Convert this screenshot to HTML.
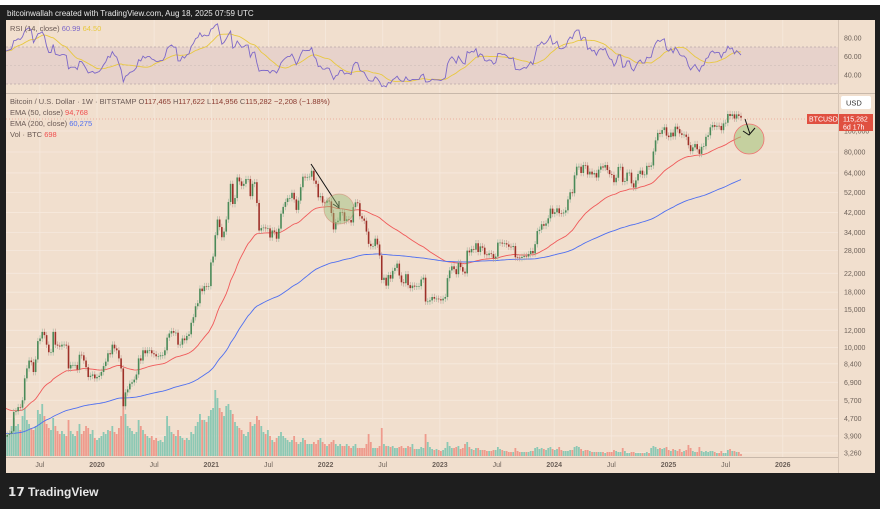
<!DOCTYPE html>
<html><head><meta charset="utf-8"><style>
html,body{margin:0;padding:0;background:#1e1e1e;width:880px;height:509px;overflow:hidden}
svg{display:block;font-family:"Liberation Sans",sans-serif}
</style></head><body>
<svg id="c" width="880" height="509">
<rect x="0" y="0" width="880" height="5" fill="#ffffff"/>
<rect x="0" y="5" width="880" height="504" fill="#1e1e1e"/>
<text x="7" y="16" fill="#e8e8e8" font-size="8">bitcoinwallah created with TradingView.com, Aug 18, 2025 07:59 UTC</text>
<rect x="6" y="20" width="869" height="453" fill="#f1dfce"/>
<g id="grid"></g>
<rect x="6" y="47" width="832" height="37" fill="#e7d2cb"/>
<line x1="6" y1="47" x2="838" y2="47" stroke="#b9a9a8" stroke-dasharray="2,2" stroke-width="0.7"/>
<line x1="6" y1="65.5" x2="838" y2="65.5" stroke="#c9b9b5" stroke-dasharray="2,2" stroke-width="0.6"/>
<line x1="6" y1="84" x2="838" y2="84" stroke="#b9a9a8" stroke-dasharray="2,2" stroke-width="0.7"/>
<line x1="6" y1="93.5" x2="875" y2="93.5" stroke="#c8b8aa" stroke-width="1"/>
<line x1="838.5" y1="20" x2="838.5" y2="473" stroke="#d6c4b4" stroke-width="1"/>
<line x1="6" y1="457.5" x2="838" y2="457.5" stroke="#c8b8aa" stroke-width="1"/>
<defs><clipPath id="mainclip"><rect x="6" y="94" width="832" height="363"/></clipPath><clipPath id="rsiclip"><rect x="6" y="20" width="832" height="73"/></clipPath></defs>
<g id="vol" clip-path="url(#mainclip)"></g>
<g id="ema" clip-path="url(#mainclip)"></g>
<g id="candles" clip-path="url(#mainclip)"></g>
<g id="rsi" clip-path="url(#rsiclip)"></g>
<g id="axes"></g>
<text x="10" y="31" font-size="7.5" fill="#6a5a55">RSI (14, close) <tspan fill="#7d68c8">60.99</tspan> <tspan fill="#e8c840">64.50</tspan></text>
<text x="10" y="104" font-size="7.5" fill="#6a5a55">Bitcoin / U.S. Dollar · 1W · BITSTAMP  O<tspan fill="#8a3a30">117,465</tspan>  H<tspan fill="#8a3a30">117,622</tspan>  L<tspan fill="#8a3a30">114,956</tspan>  C<tspan fill="#8a3a30">115,282</tspan>  <tspan fill="#8a3a30">−2,208 (−1.88%)</tspan></text>
<text x="10" y="115" font-size="7.5" fill="#6a5a55">EMA (50, close) <tspan fill="#f05050">94,768</tspan></text>
<text x="10" y="126" font-size="7.5" fill="#6a5a55">EMA (200, close) <tspan fill="#4f6ff0">60,275</tspan></text>
<text x="10" y="137" font-size="7.5" fill="#6a5a55">Vol · BTC <tspan fill="#f05050">698</tspan></text>
<g>
<line x1="311" y1="164" x2="339" y2="207" stroke="#111" stroke-width="1"/>
<polyline points="333,204 339,208 339,201" fill="none" stroke="#111" stroke-width="1"/>
<circle cx="339" cy="209" r="15" fill="rgba(150,190,120,0.45)" stroke="rgba(210,120,100,0.5)" stroke-width="0.8"/>
</g>
<g>
<circle cx="749" cy="139" r="15" fill="rgba(160,195,120,0.55)" stroke="#f07070" stroke-width="0.8"/>
<line x1="745" y1="119" x2="750" y2="134" stroke="#111" stroke-width="1"/>
<polyline points="743,131 749,135 755,128" fill="none" stroke="#111" stroke-width="1"/>
</g>
<line x1="6" y1="119" x2="838" y2="119" stroke="#e8a090" stroke-dasharray="1,2" stroke-width="0.7"/>
<rect x="841" y="96" width="30" height="13" rx="2" fill="#ffffff"/>
<text x="846" y="105.5" font-size="7.5" fill="#333">USD</text>
<rect x="807" y="114" width="31" height="10" fill="#e05040"/>
<text x="809" y="121.5" font-size="7" fill="#fff">BTCUSD</text>
<rect x="839" y="114" width="34" height="17" fill="#e05040"/>
<text x="843" y="121.5" font-size="7" fill="#fff">115,282</text>
<text x="843" y="129.5" font-size="7" fill="#fff">6d 17h</text>
<g>
<text x="8" y="496" font-size="12" font-weight="bold" fill="#e8e8e8">𝟭𝟳</text>
<text x="28" y="496" font-size="12" font-weight="bold" fill="#e8e8e8">TradingView</text>
</g>
</svg>
<script>
const closes = [
3870,3950,4000,4100, 5030,5070,5300,5270, 5700,7200,8000,8700,8550, 7700,8800,10700,11000, 11800,11400,10300,9500,9500, 11800,10300,10200,10100, 10300,10300,10200,8000,8300, 8300,8300,7900,9250, 9200,8700,8100,7300, 7400,7500,7200,7300,7400,
7700,8200,8600,9400, 9300,10300,9900,9700, 8900,8000,5350,6200,6400, 6800,6900,7100,7500, 8900,8700,9700,9400,9700, 9700,9400,9300,9100, 9100,9200,9200,9700, 11100,11600,11900,11700,11700, 10300,10300,11000,10800, 11300,11500,13000,13800, 15500,16000,18700,18200,19200, 19100,19200,24700,26300,
33000,39000,36000,32300,34300, 39000,47000,57000,46000, 49000,61000,58500,55800, 57000,60000,60000,50000, 57000,58000,46500,34700,35600, 35800,35500,35500,32200, 34700,34200,31800,35400, 41500,44600,47000,48900,49000, 51800,48300,43200,47700, 55000,61500,61000,61300,61500, 65500,59000,57000,49400, 50000,46700,46600,47700,
47300,41800,35100,37900,38500, 42200,42100,38400,39100, 38800,37800,44500,46800, 46400,40400,39400,38500, 34300,30100,29400,29400,31800, 29900,26600,20500,21000, 19300,21600,20800,22600,23300, 24400,21500,20000,19800, 21800,19400,18800,19300, 19100,19200,19200,20600,21000, 16300,16300,16500,17100, 16800,16800,16700,16500,
16800,17100,20900,22700,23700, 23000,21800,24600,23500, 22400,22000,28000,27500, 28500,28300,30300,27600,29300, 28900,26900,26700,27200, 27000,25800,26300,30500, 30500,30200,30300,29900,29200, 29100,29400,26100,26000, 25900,26200,26500,26300, 27000,27900,27200,30000,34500, 35000,37100,36500,37400, 39500,43800,41400,42100,
43900,41700,41600,42000, 43000,48300,52100,51600, 62400,68400,68400,64000,69600, 69300,63000,64900,63000, 63900,61000,66300,68600, 67800,69600,66000,63200,62700, 58000,60800,68200,68300, 58200,58700,64200,64200, 57300,54800,59100,63300,65600, 62800,62900,69000,68400, 69300,80400,90500,98000, 97000,101000,104000,95200,93700,
98300,94500,104700,102000, 97500,96000,96200,94000, 86000,80700,84000,87000,82300, 78400,84500,85100,94000, 95500,104000,106500,104600, 105700,105500,100900,108400,109200, 119800,117300,119400,114200, 119300,117465,115282
];
const volumes = [
18,20,22,30, 38,30,32,26, 40,48,36,32,28, 26,30,46,42, 52,40,32,28,26, 38,30,25,22, 25,22,20,36,25, 22,20,25,32, 22,25,30,28, 22,26,18,16,18,
20,24,22,26, 25,30,24,22, 28,40,62,42,30, 28,25,22,24, 36,30,26,22,20, 18,20,16,18, 15,16,14,20, 40,30,24,22,20, 26,20,18,16, 18,16,24,22, 30,34,42,36,36, 34,40,46,48,
66,58,48,44,40, 50,52,46,42, 34,30,28,26, 22,20,24,34, 30,32,40,36,30, 24,22,26,20, 16,14,18,20, 24,20,18,16,14, 16,20,14,12, 14,18,16,12,12, 12,14,12,16, 18,14,12,10,
12,14,16,12,10, 12,10,10,12, 10,8,10,12, 8,8,8,8, 12,22,14,8,8, 8,10,28,12, 10,10,9,10,8, 8,9,10,8, 8,10,9,12, 7,7,7,9,8, 22,14,9,7, 6,7,6,5,
6,8,14,10,8, 8,9,10,7, 8,12,14,9, 7,6,8,8,6, 6,6,5,5, 5,6,6,9, 7,6,5,5,4, 4,4,8,5, 4,4,4,4, 4,5,5,8,9, 7,8,7,6, 8,9,7,6,
7,9,6,5, 5,5,6,6, 9,10,9,7,5, 6,6,5,4, 4,4,4,4, 4,3,4,4,4, 6,5,4,4, 8,5,3,3, 4,4,3,3,3, 3,3,4,3, 8,10,9,7, 8,7,8,9,6,
5,7,6,5, 7,4,5,6, 11,8,5,4,4, 9,5,4,5, 4,5,5,4, 3,3,5,3,3, 6,7,5,5, 4,4,2
];
const priceTicks = [100000,80000,64000,52000,42000,34000,28000,22000,18000,15000,12000,10000,8400,6900,5700,4700,3900,3260];
const rsiTicks = [80,60,40];
const timeLabels = ["Jul","2020","Jul","2021","Jul","2022","Jul","2023","Jul","2024","Jul","2025","Jul","2026"];
const timeYears = [2019.5,2020,2020.5,2021,2021.5,2022,2022.5,2023,2023.5,2024,2024.5,2025,2025.5,2026];

const NS="http://www.w3.org/2000/svg";
const yP = p => 131 - 94*Math.log(p/100000);
const yR = r => 65.5 - (r-50)*0.925;
const xT = yr => 97 + (yr-2020)*114.3;
const step = 114.3/52.18;
const N = closes.length;
const xI = i => 741 - (N-1-i)*step;
const yV = v => 456 - v*1.0;
function mk(tag, attrs, parent){const e=document.createElementNS(NS,tag);for(const k in attrs)e.setAttribute(k,attrs[k]);parent.appendChild(e);return e;}
const grid=document.getElementById('grid'), axes=document.getElementById('axes');
priceTicks.forEach(p=>{
  const l=mk('line',{x1:6,x2:838,y1:yP(p),y2:yP(p),stroke:'#f6e9dd','stroke-width':0.8},grid);
  
  
  const t=mk('text',{x:844,y:yP(p)+2.5,'font-size':7,fill:'#6e625a'},axes);
  t.textContent=p.toLocaleString('en-US');
  
  
});
rsiTicks.forEach(r=>{
  const t=mk('text',{x:844,y:yR(r)+2.5,'font-size':7,fill:'#6e625a'},axes);
  t.textContent=r.toFixed(2);
  
  
});
timeLabels.forEach((s,i)=>{
  const x=xT(timeYears[i]);
  const l=mk('line',{x1:x,x2:x,y1:20,y2:457,stroke:'#f6e9dd','stroke-width':0.8},grid);
  
  
  const t=mk('text',{x:x,y:467,'font-size':7,fill:'#6e625a','text-anchor':'middle','font-weight':s.length===4?'bold':'normal'},axes);
  t.textContent=s;
  
  
});
// volume
const vg=document.getElementById('vol');
for(let i=0;i<N;i++){
  const o=i?closes[i-1]:closes[0]*0.98, up=closes[i]>=o;
  const r=mk('rect',{x:xI(i)-0.9,y:yV(volumes[i]),width:1.8,height:456-yV(volumes[i]),fill:up?'#8cc8b4':'#ee9a8c'},vg);
  
  
}
// EMAs
function ema(period, seed){let e=seed;const out=[];const k=2/(period+1);closes.forEach(c=>{e=c*k+e*(1-k);out.push(e);});return out;}
const eg=document.getElementById('ema');
[[ema(50,5300),'#f05a5a','ema-50-line'],[ema(200,4000),'#4f6ff0','ema-200-line']].forEach(([arr,col,name])=>{
  const p=mk('polyline',{points:arr.map((v,i)=>xI(i).toFixed(1)+','+yP(v).toFixed(1)).join(' '),fill:'none',stroke:col,'stroke-width':0.9},eg);
  
  
});
// candles
const cg=document.getElementById('candles');
for(let i=0;i<N;i++){
  const o=i?closes[i-1]:closes[0]*0.98, c=closes[i], up=c>=o;
  const col=up?'#4a8a58':'#9e3028';
  const x=xI(i);
  const w=mk('line',{x1:x,x2:x,y1:yP(Math.max(o,c)*1.035),y2:yP(Math.min(o,c)*0.965),stroke:up?'#9bb8a0':'#c09890','stroke-width':0.6},cg);
  
  
  const yt=yP(Math.max(o,c)), yb=yP(Math.min(o,c));
  const b=mk('rect',{x:x-0.8,y:yt,width:1.6,height:Math.max(0.6,yb-yt),fill:col},cg);
  
  
}
// RSI
let ag=150, al=80; const rsi=[];
for(let i=0;i<N;i++){const d=i?closes[i]-closes[i-1]:0;ag=(ag*13+Math.max(d,0))/14;al=(al*13+Math.max(-d,0))/14;rsi.push(100-100/(1+ag/(al||1e-9)));}
const rma=rsi.map((v,i)=>{const s=rsi.slice(Math.max(0,i-13),i+1);return s.reduce((a,b)=>a+b,0)/s.length;});
const rg=document.getElementById('rsi');
const rl=mk('polyline',{points:rma.map((v,i)=>xI(i).toFixed(1)+','+yR(v).toFixed(1)).join(' '),fill:'none',stroke:'#e8c840','stroke-width':0.9},rg);


const rp=mk('polyline',{points:rsi.map((v,i)=>xI(i).toFixed(1)+','+yR(v).toFixed(1)).join(' '),fill:'none',stroke:'#7d68c8','stroke-width':0.9},rg);


</script>
</body></html>
